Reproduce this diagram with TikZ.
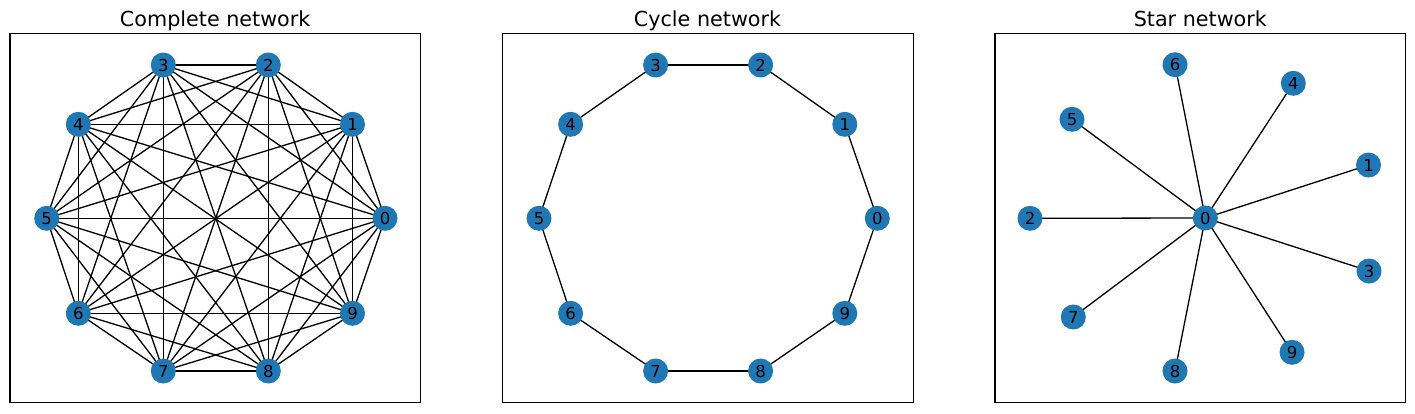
\documentclass[tikz,border=0pt]{standalone}
\usepackage{fontspec}
\setmainfont{DejaVu Sans}
\usetikzlibrary{backgrounds}
\definecolor{nxblue}{HTML}{1F77B4}
\tikzset{
  vtx/.style={circle,fill=nxblue,draw=none,minimum size=25pt,inner sep=0pt,font=\fontsize{16.5}{16.5}\selectfont},
  edge/.style={line width=1.3pt,black},
  frame/.style={line width=1.1pt,black},
  ttl/.style={anchor=base,font=\fontsize{20.7}{20.7}\selectfont}
}
\begin{document}
\begin{tikzpicture}[x=1pt,y=-1pt]
\useasboundingbox (0,0) rectangle (1415,413);
% frames
\draw[frame] (10,33.3) rectangle (420.3,402.7);
\draw[frame] (502.3,33.3) rectangle (913.7,402.7);
\draw[frame] (995,33.3) rectangle (1405.7,402.7);
% titles
\node[ttl] (t1) at (215.2,26) {Complete network};
\node[ttl] (t2) at (707.5,26) {Cycle network};
\node[ttl] (t3) at (1200.3,26) {Star network};
% complete and cycle networks
\foreach \n/\x/\y in {0/385/218.3,1/352.5/124.3,2/268.3/65,3/163.3/65,4/78.3/124.3,5/46.7/218.3,6/78.3/313.3,7/163.3/371,8/268.3/371,9/352.5/313.3}{
  \node[vtx] (c\n) at (\x,\y) {\n};
  \node[vtx] (y\n) at (\x+492.3,\y) {\n};
}
\begin{scope}[on background layer]
\foreach \i in {0,...,8}{
  \pgfmathtruncatemacro\k{\i+1}
  \foreach \j in {\k,...,9}{\draw[edge] (c\i.center) -- (c\j.center);}
}
\foreach \i/\j in {0/1,1/2,2/3,3/4,4/5,5/6,6/7,7/8,8/9,9/0}{\draw[edge] (y\i.center) -- (y\j.center);}
\end{scope}
% star network
\foreach \n/\x/\y in {0/1205.3/218,1/1368.5/165,2/1030/218.3,3/1369/271,4/1293.3/83.3,5/1072/119.3,6/1175/64.7,7/1073.3/317,8/1175/371,9/1292/352.3}{
  \node[vtx] (s\n) at (\x,\y) {\n};
}
\begin{scope}[on background layer]
\foreach \j in {1,...,9}{\draw[edge] (s0.center) -- (s\j.center);}
\end{scope}
\end{tikzpicture}
\end{document}
